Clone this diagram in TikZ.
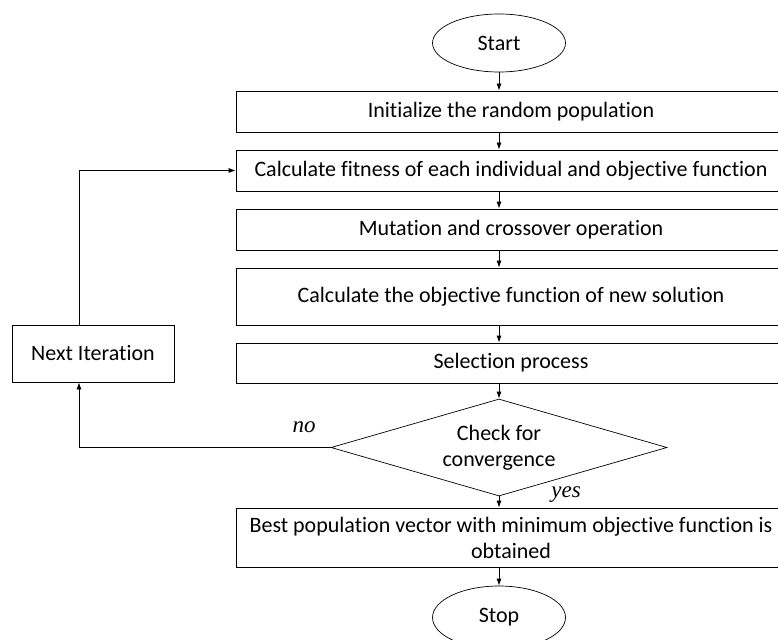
\documentclass[tikz,border=0pt]{standalone}
\usepackage{fontspec}
\setmainfont{Carlito}[Ligatures={NoCommon}]
\newfontfamily\labfont{Liberation Serif}
\usetikzlibrary{shapes.geometric,arrows.meta}
\begin{document}
\begin{tikzpicture}[x=1pt,y=-1pt,
  every node/.style={font=\fontsize{22}{26}\selectfont},
  box/.style={draw, line width=0.8pt, minimum width=550pt, inner sep=0pt, align=center},
  term/.style={draw, ellipse, line width=0.7pt, minimum width=133pt, minimum height=58pt, inner sep=0pt},
  dia/.style={draw, diamond, line width=0.7pt, aspect=3.46, minimum width=336pt, minimum height=97pt, inner sep=0pt, align=center},
  arr/.style={-{Latex[length=7pt,width=5pt]}, line width=0.8pt},
  lab/.style={font=\labfont\itshape\fontsize{23}{26}\selectfont, inner sep=0pt}]
\useasboundingbox (0,0) rectangle (778,639);
\clip (0,0) rectangle (778,639);
\node[term] (start) at (499,43) {Start};
\node[box, minimum height=41pt] (init) at (511,111.5) {Initialize the random population};
\node[box, minimum height=41pt] (fit) at (511,170.5) {Calculate fitness of each individual and objective function};
\node[box, minimum height=41pt] (mut) at (511,229.5) {Mutation and crossover operation};
\node[box, minimum height=57pt] (obj) at (511,296.5) {Calculate the objective function of new solution};
\node[box, minimum height=40pt] (sel) at (511,363) {Selection process};
\node[dia] (chk) at (499,447.5) {Check for\\convergence};
\node[box, minimum height=59pt] (best) at (511,537.5) {Best population vector with minimum objective function is\\obtained};
\node[term, minimum height=63pt] (stop) at (499,617.5) {Stop};
\node[box, minimum width=162pt, minimum height=57pt] (next) at (93,353.5) {Next Iteration};
\node[lab] (no) at (304,427) {no};
\node[lab] (yes) at (566,495) {yes};
\coordinate (lx) at (79,0);
\draw[arr] (start.south) -- (start.south |- init.north);
\draw[arr] (init.south -| start) -- (fit.north -| start);
\draw[arr] (fit.south -| start) -- (mut.north -| start);
\draw[arr] (mut.south -| start) -- (obj.north -| start);
\draw[arr] (obj.south -| start) -- (sel.north -| start);
\draw[arr] (sel.south -| start) -- (chk.north);
\draw[arr] (chk.south) -- (best.north -| chk);
\draw[arr] (best.south -| stop) -- (stop.north);
\draw[arr] (chk.west) -| (lx |- next.south);
\draw[arr] (lx |- next.north) |- (fit.west);
\end{tikzpicture}
\end{document}
